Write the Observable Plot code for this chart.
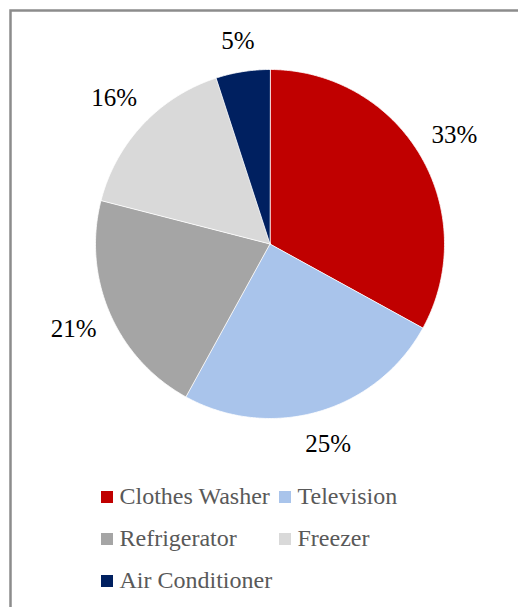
<!DOCTYPE html>
<html>
<head>
<meta charset="utf-8">
<script src="https://cdn.jsdelivr.net/npm/d3@7"></script>
<script src="https://cdn.jsdelivr.net/npm/@observablehq/plot@0.6"></script>
<style>
  html, body { margin: 0; padding: 0; background: #fff; overflow: hidden; }
  #chart svg { display: block; }
</style>
</head>
<body>
<div id="chart"></div>
<script>
// ---- data ----
const categories = ["Clothes Washer", "Television", "Refrigerator", "Freezer", "Air Conditioner"];
const shares = [33, 25, 21, 16, 5];
const colors = ["#C00000", "#A9C4EB", "#A5A5A5", "#D9D9D9", "#002060"];

// ---- layout ----
const W = 518, H = 607;
const cx = 269.5, cy = 243.5, R = 174.5;
const labelFont = 25, legendFont = 24;
const serif = "Liberation Serif";

const arcs = d3.pie().sort(null).value(d => d)(shares);

// slice polygons (pie geometry in pixel units, drawn through x/y scales)
const slicePts = [];
arcs.forEach((a, i) => {
  const name = categories[i];
  slicePts.push({name, x: cx, y: cy});
  const n = Math.max(2, Math.ceil((a.endAngle - a.startAngle) / (Math.PI / 360)));
  for (let k = 0; k <= n; k++) {
    const t = a.startAngle + (a.endAngle - a.startAngle) * k / n;
    slicePts.push({name, x: cx + R * Math.sin(t), y: cy - R * Math.cos(t)});
  }
});

// percentage labels placed just outside the pie at mid-angle
const labels = arcs.map((a, i) => {
  const text = shares[i] + "%";
  const m = (a.startAngle + a.endAngle) / 2;
  const w = text.length * 0.6 * labelFont * 0.82;
  const h = labelFont * 0.9;
  const d = R + 18 + Math.abs(Math.sin(m)) * w / 2 + Math.abs(Math.cos(m)) * h / 2;
  return {text, x: cx + d * Math.sin(m), y: cy - d * Math.cos(m)};
});

// legend (2 columns)
const colX = [101, 279], rowY0 = 497, rowStep = 42, sw = 12;
const legend = categories.map((name, i) => ({
  name,
  x: colX[i % 2],
  y: rowY0 + Math.floor(i / 2) * rowStep
}));

const chart = Plot.plot({
  width: W,
  height: H,
  margin: 0,
  x: {domain: [0, W], range: [0, W], axis: null},
  y: {domain: [0, H], range: [0, H], axis: null},
  color: {domain: categories, range: colors},
  style: {background: "#fff", fontFamily: serif},
  marks: [
    Plot.rect([0], {x1: 10.5, y1: 10.5, x2: W + 20, y2: H + 20, fill: "none", stroke: "#8c8c8c", strokeWidth: 2.5}),
    Plot.line(slicePts, {x: "x", y: "y", z: "name", fill: "name", stroke: "#fff", strokeWidth: 0.8, curve: "linear-closed"}),
    Plot.text(labels, {x: "x", y: "y", text: "text", fill: "#000", fontSize: labelFont, fontFamily: serif}),
    Plot.rect(legend, {x1: d => d.x, x2: d => d.x + sw, y1: d => d.y - sw / 2, y2: d => d.y + sw / 2, fill: "name"}),
    Plot.text(legend, {x: d => d.x + sw + 6, y: d => d.y - 1, text: "name", textAnchor: "start", fill: "#595959", fontSize: legendFont, fontFamily: serif})
  ]
});
document.getElementById("chart").appendChild(chart);
</script>
</body>
</html>
